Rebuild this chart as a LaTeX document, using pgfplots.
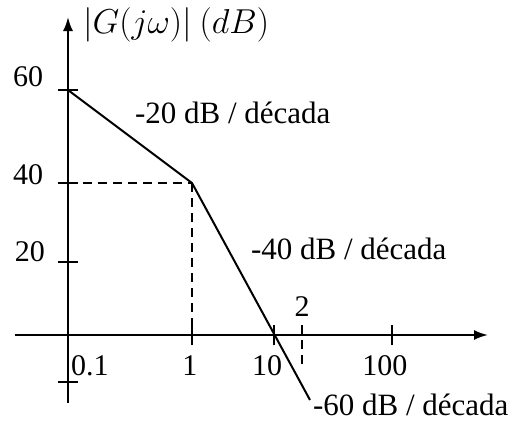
\documentclass[border=0pt]{standalone}
\usepackage{pgfplots}
\pgfplotsset{compat=1.18}
\usetikzlibrary{arrows.meta}
\usepackage{fontspec}
\setmainfont{Liberation Serif}
\begin{document}
\begin{tikzpicture}[font=\fontsize{15}{17}\selectfont]
\begin{axis}[x=0.5pt, y=0.5pt,
    axis lines=middle, enlargelimits=false, clip=false,
    xmin=-53, xmax=420, ymin=-68, ymax=318,
    axis line style={black, line width=1pt, -{Latex[length=7pt,width=5pt]}},
    xtick={124,206,324}, ytick={-47,73,152,245},
    xticklabels={}, yticklabels={},
    tick align=center, major tick length=10pt,
    tick style={black, line width=0.9pt}]
  % asymptotic magnitude (positions as in the sketch)
  \addplot[black, line width=1pt] coordinates {(0,245) (124,152) (242,-65)};
  % guides
  \addplot[black, dash pattern=on 4.5pt off 3pt, line width=0.7pt] coordinates {(0,152) (124,152)};
  \addplot[black, dash pattern=on 4.5pt off 3pt, line width=0.7pt] coordinates {(124,152) (124,-5)};
  \addplot[black, dash pattern=on 4.5pt off 3pt, line width=0.7pt] coordinates {(234,10) (234,-30)};
  % labels
  \node[anchor=west, font=\fontsize{16}{18}\selectfont] at (axis cs:8,310) {$|G(j\omega)|\ (dB)$};
  \node at (axis cs:-40,258) {60};
  \node at (axis cs:-40,160) {40};
  \node at (axis cs:-38,83) {20};
  \node at (axis cs:22,-31) {0.1};
  \node at (axis cs:122,-31) {1};
  \node at (axis cs:199,-31) {10};
  \node at (axis cs:317,-31) {100};
  \node at (axis cs:234,28) {2};
  \begin{scope}[font=\fontsize{15.5}{17}\selectfont]
  \node[anchor=west] at (axis cs:60,222) {-20 dB / década};
  \node[anchor=west] at (axis cs:176,86) {-40 dB / década};
  \node[anchor=west] at (axis cs:238,-70) {-60 dB / década};
  \end{scope}
  \coordinate (bl) at (axis cs:-68,-85);
  \coordinate (tr) at (axis cs:453,335);
\end{axis}
\pgfresetboundingbox
\useasboundingbox (bl) rectangle (tr);
\end{tikzpicture}
\end{document}
